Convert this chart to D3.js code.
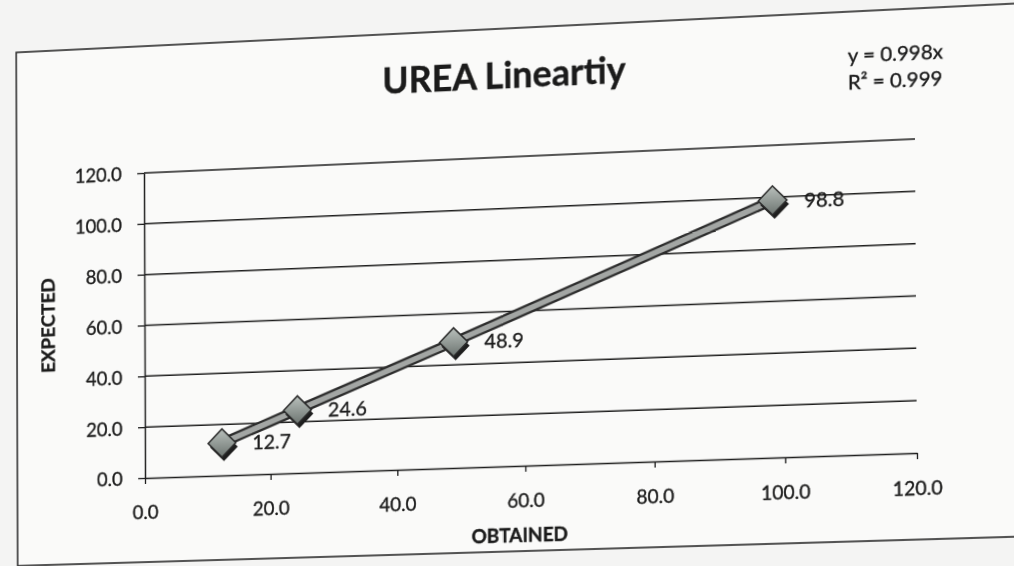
<!DOCTYPE html>
<html>
<head>
<meta charset="utf-8">
<title>UREA Lineartiy</title>
<style>
  html, body { margin: 0; padding: 0; background: #f4f4f3; overflow: hidden; }
  #chart { position: absolute; left: 0; top: 0; transform-origin: 0 0; overflow: visible; }
  text { font-family: Lato, "Open Sans", sans-serif; fill: #1b1b1b; stroke: #1b1b1b; stroke-width: 0.35px; }
</style>
</head>
<body>
<!-- drawn a little larger than the window so the warped frame runs off the right edge -->
<svg id="chart" width="1100" height="600"></svg>
<script src="https://d3js.org/d3.v7.min.js"></script>
<script>
// values
var obtained = [12.3, 24.3, 48.9, 98.3];
var expected = [12.7, 24.6, 48.9, 98.8];
var pointLabels = ["12.7", "24.6", "48.9", "98.8"];
var xTicks = [0, 20, 40, 60, 80, 100, 120];
var yTicks = [0, 20, 40, 60, 80, 100, 120];
var chartTitle = "UREA Lineartiy";
var trendText = ["y = 0.998x", "R² = 0.999"];
var xTitle = "OBTAINED";
var yTitle = "EXPECTED";

var plot = {left: 145, right: 917, top: 173, bottom: 478};

var x = d3.scaleLinear().domain([0, 120]).range([plot.left, plot.right]);
var y = d3.scaleLinear().domain([0, 120]).range([plot.bottom, plot.top]);

var svg = d3.select("#chart");

var grad = svg.append("defs").append("linearGradient")
    .attr("id", "markerFill")
    .attr("x1", "0%").attr("y1", "0%").attr("x2", "100%").attr("y2", "100%");
grad.append("stop").attr("offset", "0%").attr("stop-color", "#b9c0bc");
grad.append("stop").attr("offset", "100%").attr("stop-color", "#6c7470");

// chart frame (runs past the right edge of the photo)
svg.append("rect")
    .attr("x", 13).attr("y", 46)
    .attr("width", 1120).attr("height", 516)
    .attr("fill", "#fafaf9")
    .attr("stroke", "#2b2b2b")
    .attr("stroke-width", 1.6);

// title + trendline text
svg.append("text")
    .attr("x", 511).attr("y", 105)
    .attr("text-anchor", "middle")
    .style("font-size", "36px").style("font-weight", "bold")
    .text(chartTitle);

svg.selectAll("text.trend")
    .data(trendText)
    .enter().append("text")
    .attr("class", "trend")
    .attr("x", 852)
    .attr("y", function(d, i) { return 96 + i * 26; })
    .style("font-size", "20px")
    .text(function(d) { return d; });

// gridlines
svg.append("g").selectAll("line")
    .data(yTicks.filter(function(t) { return t > 0; }))
    .enter().append("line")
    .attr("x1", x(0)).attr("x2", x(120))
    .attr("y1", function(d) { return y(d); })
    .attr("y2", function(d) { return y(d); })
    .attr("stroke", "#1e1e1e")
    .attr("stroke-width", 1.5);

// axes
var fmt = d3.format(".1f");
var xAxis = svg.append("g")
    .attr("transform", "translate(0," + y(0) + ")")
    .call(d3.axisBottom(x).tickValues(xTicks).tickFormat(fmt)
        .tickSize(6).tickSizeOuter(0).tickPadding(22));
var yAxis = svg.append("g")
    .attr("transform", "translate(" + x(0) + ",0)")
    .call(d3.axisLeft(y).tickValues(yTicks).tickFormat(fmt)
        .tickSize(7).tickSizeOuter(0).tickPadding(16));

[xAxis, yAxis].forEach(function(a) {
    a.attr("font-family", null).attr("font-size", null);
    a.select(".domain").attr("stroke", "#1e1e1e").attr("stroke-width", 1.5);
    a.selectAll(".tick line").attr("stroke", "#1e1e1e").attr("stroke-width", 1.3);
    a.selectAll(".tick text").style("font-size", "19px").attr("fill", "#1b1b1b");
});
yAxis.selectAll(".tick text").attr("dy", "0.36em");

// axis titles
svg.append("text")
    .attr("transform", "translate(45,322) rotate(-90)")
    .attr("text-anchor", "middle")
    .attr("dominant-baseline", "central")
    .style("font-size", "19px").style("font-weight", "bold")
    .text(yTitle);

svg.append("text")
    .attr("x", 525).attr("y", 546)
    .attr("text-anchor", "middle")
    .attr("dominant-baseline", "central")
    .style("font-size", "19px").style("font-weight", "bold")
    .text(xTitle);

// series
var pts = obtained.map(function(o, i) {
    return {o: o, e: expected[i], label: pointLabels[i]};
});

var line = d3.line()
    .x(function(d) { return x(d.o); })
    .y(function(d) { return y(d.e); });

svg.append("path").datum(pts)
    .attr("d", line).attr("fill", "none")
    .attr("stroke", "#2c2c2c").attr("stroke-width", 10)
    .attr("stroke-linecap", "round");
svg.append("path").datum(pts)
    .attr("d", line).attr("fill", "none")
    .attr("stroke", "#a3a6a4").attr("stroke-width", 5.5)
    .attr("stroke-linecap", "round");

var diamond = d3.symbol().type(d3.symbolSquare).size(400);

// marker shadow
svg.append("g").selectAll("path")
    .data(pts).enter().append("path")
    .attr("d", diamond)
    .attr("transform", function(d) {
        return "translate(" + (x(d.o) + 2) + "," + (y(d.e) + 4) + ") rotate(45)";
    })
    .attr("fill", "#1e1e1e");

svg.append("g").selectAll("path")
    .data(pts).enter().append("path")
    .attr("d", diamond)
    .attr("transform", function(d) {
        return "translate(" + x(d.o) + "," + y(d.e) + ") rotate(45)";
    })
    .attr("fill", "url(#markerFill)")
    .attr("stroke", "#2a2a2a")
    .attr("stroke-width", 1.5);

svg.append("g").selectAll("text")
    .data(pts).enter().append("text")
    .attr("x", function(d) { return x(d.o) + 31; })
    .attr("y", function(d) { return y(d.e); })
    .attr("dominant-baseline", "central")
    .style("font-size", "20px")
    .text(function(d) { return d.label; });

// the reference is a photo of a printed page, so warp the flat chart
// onto the same perspective with a 4-corner homography
var flatCorners = [[x(0), y(0)], [x(120), y(0)], [x(0), y(120)], [x(120), y(120)]];
var photoCorners = [[145, 478], [917, 453], [144, 173], [915, 139]];

function homography(src, dst) {
    var A = [], b = [];
    for (var i = 0; i < 4; i++) {
        var sx = src[i][0], sy = src[i][1], dx = dst[i][0], dy = dst[i][1];
        A.push([sx, sy, 1, 0, 0, 0, -sx * dx, -sy * dx]); b.push(dx);
        A.push([0, 0, 0, sx, sy, 1, -sx * dy, -sy * dy]); b.push(dy);
    }
    var n = 8;
    for (var c = 0; c < n; c++) {
        var p = c;
        for (var r = c + 1; r < n; r++) if (Math.abs(A[r][c]) > Math.abs(A[p][c])) p = r;
        var t = A[c]; A[c] = A[p]; A[p] = t;
        t = b[c]; b[c] = b[p]; b[p] = t;
        for (var r2 = c + 1; r2 < n; r2++) {
            var f = A[r2][c] / A[c][c];
            for (var k = c; k < n; k++) A[r2][k] -= f * A[c][k];
            b[r2] -= f * b[c];
        }
    }
    var h = new Array(n);
    for (var r3 = n - 1; r3 >= 0; r3--) {
        var s = b[r3];
        for (var k2 = r3 + 1; k2 < n; k2++) s -= A[r3][k2] * h[k2];
        h[r3] = s / A[r3][r3];
    }
    return h;
}

var h = homography(flatCorners, photoCorners);
svg.style("transform", "matrix3d(" + [
    h[0], h[3], 0, h[6],
    h[1], h[4], 0, h[7],
    0, 0, 1, 0,
    h[2], h[5], 0, 1
].join(",") + ")");
</script>
</body>
</html>
